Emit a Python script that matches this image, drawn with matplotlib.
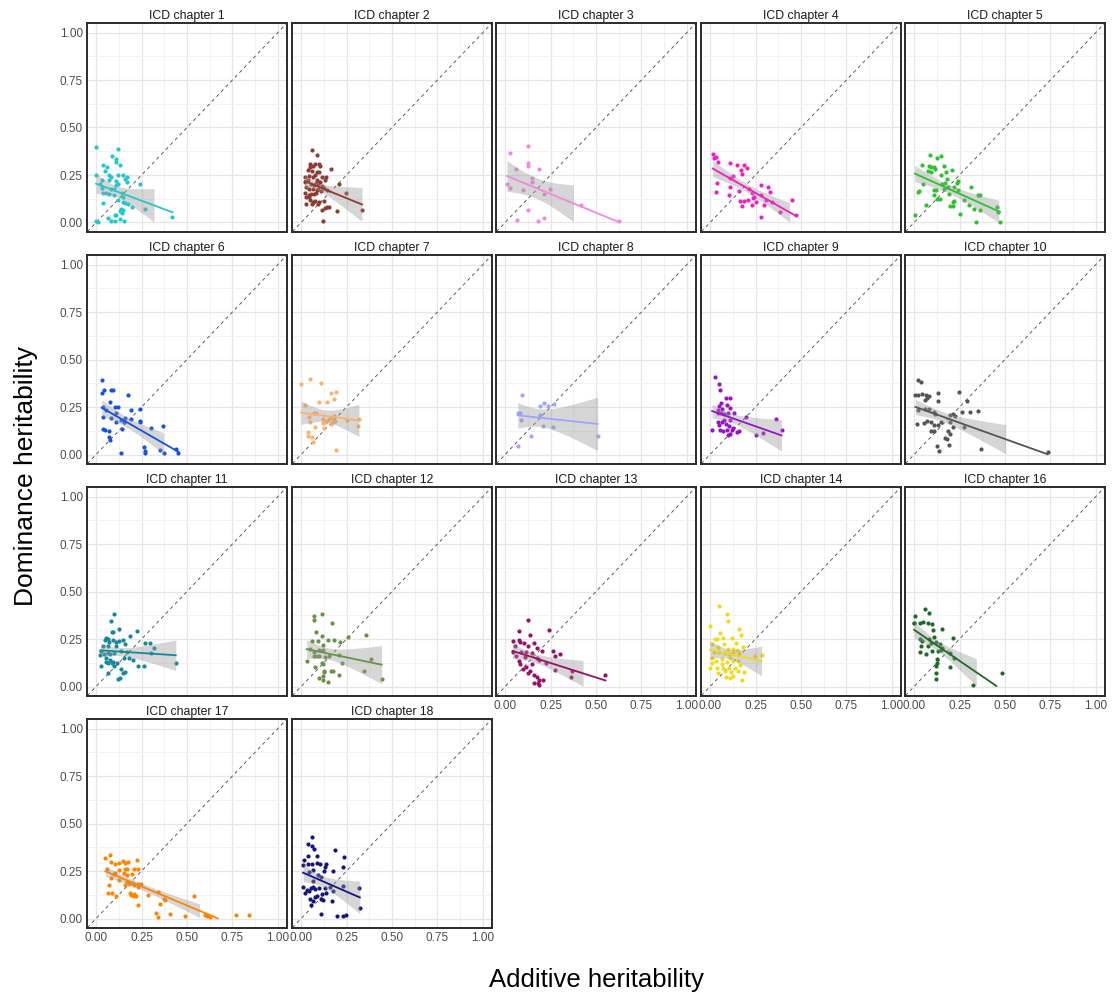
import numpy as np
import matplotlib
matplotlib.use("Agg")
import matplotlib.pyplot as plt

plt.rcParams['font.family'] = ['Liberation Sans', 'DejaVu Sans']

# additive (x) and dominance (y) heritability per ICD chapter
add_1 = [0.00, 0.12, 0.09, 0.11, 0.11, 0.13, 0.04, 0.06, 0.05, 0.00, 0.07, 0.08, 0.12, 0.15, 0.17, 0.16, 0.17, 0.03,
         0.07, 0.02, 0.03, 0.11, 0.12, 0.11, 0.24, 0.08, 0.10, 0.04, 0.055, 0.07, 0.10, 0.14, 0.15, 0.12, 0.15, 0.16,
         0.04, 0.175, 0.20, 0.27, 0.135, 0.15, 0.13, 0.14, 0.11, 0.105, 0.13, 0.065, 0.08, 0.105, 0.155, 0.42, 0.00, 0.01]
dom_1 = [0.395, 0.386, 0.35, 0.335, 0.32, 0.305, 0.30, 0.29, 0.27, 0.25, 0.25, 0.24, 0.25, 0.25, 0.24, 0.23, 0.215, 0.225,
         0.225, 0.205, 0.18, 0.22, 0.205, 0.195, 0.205, 0.175, 0.175, 0.155, 0.155, 0.15, 0.145, 0.155, 0.135, 0.12, 0.11, 0.10,
         0.10, 0.095, 0.08, 0.07, 0.07, 0.065, 0.06, 0.05, 0.04, 0.04, 0.02, 0.025, 0.01, 0.01, 0.01, 0.03, 0.01, 0.005]

add_2 = [0.06, 0.09, 0.05, 0.077, 0.05, 0.064, 0.097, 0.106, 0.166, 0.04, 0.06, 0.086, 0.10, 0.077, 0.046, 0.064, 0.117,
         0.135, 0.02, 0.024, 0.038, 0.09, 0.106, 0.131, 0.21, 0.053, 0.084, 0.095, 0.071, 0.115, 0.029, 0.042, 0.068, 0.093,
         0.124, 0.141, 0.11, 0.086, 0.08, 0.071, 0.057, 0.042, 0.024, 0.245, 0.027, 0.046, 0.051, 0.068, 0.075, 0.097, 0.026,
         0.062, 0.095, 0.124, 0.141, 0.13, 0.115, 0.154, 0.2, 0.335, 0.122]
dom_2 = [0.38, 0.355, 0.31, 0.31, 0.29, 0.297, 0.31, 0.297, 0.284, 0.275, 0.27, 0.268, 0.265, 0.252, 0.247, 0.242, 0.242,
         0.242, 0.242, 0.215, 0.224, 0.224, 0.215, 0.222, 0.2, 0.205, 0.208, 0.205, 0.196, 0.194, 0.189, 0.178, 0.178, 0.178,
         0.182, 0.171, 0.168, 0.169, 0.155, 0.152, 0.152, 0.146, 0.153, 0.155, 0.134, 0.134, 0.12, 0.108, 0.111, 0.109, 0.095,
         0.097, 0.097, 0.115, 0.083, 0.074, 0.065, 0.083, 0.062, 0.065, 0.01]

add_3 = [0.027, 0.128, 0.128, 0.128, 0.06, 0.185, 0.15, 0.146, 0.01, 0.025, 0.099, 0.247, 0.216, 0.415, 0.128, 0.066,
         0.183, 0.212, 0.625]
dom_3 = [0.365, 0.40, 0.315, 0.296, 0.284, 0.284, 0.236, 0.212, 0.2, 0.183, 0.169, 0.175, 0.148, 0.09, 0.065, 0.014,
         0.007, 0.025, 0.007]

add_4 = [0.015, 0.02, 0.03, 0.045, 0.11, 0.15, 0.185, 0.205, 0.168, 0.175, 0.128, 0.11, 0.037, 0.035, 0.11, 0.16, 0.106,
         0.214, 0.232, 0.243, 0.28, 0.32, 0.33, 0.28, 0.25, 0.236, 0.207, 0.185, 0.165, 0.175, 0.23, 0.296, 0.307, 0.342,
         0.382, 0.45, 0.473, 0.278]
dom_4 = [0.36, 0.34, 0.343, 0.316, 0.312, 0.305, 0.30, 0.288, 0.275, 0.254, 0.245, 0.234, 0.21, 0.162, 0.185, 0.164, 0.146,
         0.178, 0.157, 0.136, 0.196, 0.185, 0.16, 0.145, 0.109, 0.129, 0.118, 0.115, 0.115, 0.088, 0.092, 0.093, 0.118, 0.106,
         0.055, 0.12, 0.037, 0.028]

add_5 = [0.086, 0.15, 0.046, 0.08, 0.095, 0.108, 0.124, 0.075, 0.091, 0.115, 0.163, 0.177, 0.208, 0.15, 0.048, 0.179,
         0.155, 0.168, 0.243, 0.236, 0.188, 0.221, 0.108, 0.119, 0.163, 0.111, 0.024, 0.029, 0.192, 0.241, 0.311, 0.353,
         0.364, 0.124, 0.143, 0.217, 0.214, 0.272, 0.3, 0.197, 0.212, 0.327, 0.362, 0.455, 0.254, 0.004, 0.064, 0.459,
         0.342, 0.472]
dom_5 = [0.355, 0.348, 0.30, 0.295, 0.29, 0.29, 0.339, 0.27, 0.266, 0.282, 0.295, 0.266, 0.277, 0.249, 0.205, 0.229,
         0.205, 0.21, 0.219, 0.206, 0.189, 0.189, 0.169, 0.171, 0.175, 0.146, 0.16, 0.166, 0.15, 0.171, 0.185, 0.143,
         0.145, 0.122, 0.123, 0.115, 0.109, 0.116, 0.092, 0.088, 0.088, 0.069, 0.065, 0.079, 0.046, 0.037, 0.09, 0.053,
         0.004, 0.002]

add_6 = [0.031, 0.031, 0.044, 0.08, 0.095, 0.175, 0.079, 0.037, 0.102, 0.119, 0.111, 0.057, 0.037, 0.19, 0.243, 0.192,
         0.24, 0.243, 0.159, 0.155, 0.08, 0.108, 0.135, 0.303, 0.367, 0.144, 0.037, 0.048, 0.069, 0.079, 0.069, 0.261,
         0.27, 0.269, 0.139, 0.353, 0.375, 0.439, 0.453]
dom_6 = [0.39, 0.322, 0.338, 0.338, 0.339, 0.311, 0.278, 0.25, 0.248, 0.248, 0.221, 0.234, 0.2, 0.232, 0.237, 0.185,
         0.17, 0.176, 0.19, 0.169, 0.192, 0.169, 0.179, 0.141, 0.151, 0.135, 0.135, 0.128, 0.123, 0.077, 0.09, 0.037,
         0.018, 0.01, 0.009, 0.023, 0.007, 0.028, 0.007]

add_7 = [0.0, 0.051, 0.02, 0.108, 0.097, 0.141, 0.166, 0.194, 0.183, 0.069, 0.08, 0.044, 0.048, 0.119, 0.122, 0.139,
         0.146, 0.161, 0.172, 0.175, 0.166, 0.188, 0.252, 0.313, 0.075, 0.124, 0.038, 0.04, 0.058, 0.066, 0.192, 0.318,
         0.183]
dom_7 = [0.373, 0.395, 0.26, 0.378, 0.278, 0.278, 0.325, 0.328, 0.29, 0.221, 0.216, 0.195, 0.17, 0.165, 0.185, 0.17,
         0.183, 0.193, 0.193, 0.17, 0.162, 0.178, 0.183, 0.149, 0.146, 0.141, 0.121, 0.1, 0.091, 0.065, 0.023, 0.185,
         0.204]

add_8 = [0.092, 0.07, 0.083, 0.087, 0.19, 0.212, 0.234, 0.269, 0.192, 0.21, 0.266, 0.144, 0.072, 0.509]
dom_8 = [0.314, 0.218, 0.218, 0.18, 0.255, 0.27, 0.255, 0.264, 0.206, 0.15, 0.145, 0.096, 0.045, 0.1]

add_9 = [0.028, 0.048, 0.057, 0.085, 0.109, 0.061, 0.05, 0.068, 0.092, 0.109, 0.046, 0.041, 0.061, 0.076, 0.098, 0.129,
         0.199, 0.046, 0.066, 0.076, 0.109, 0.085, 0.105, 0.048, 0.011, 0.057, 0.072, 0.094, 0.122, 0.148, 0.159, 0.109,
         0.098, 0.124, 0.255, 0.293, 0.365, 0.393]
dom_9 = [0.41, 0.37, 0.342, 0.295, 0.295, 0.27, 0.257, 0.241, 0.258, 0.244, 0.232, 0.22, 0.22, 0.215, 0.216, 0.218,
         0.195, 0.171, 0.171, 0.18, 0.18, 0.16, 0.15, 0.154, 0.131, 0.129, 0.124, 0.127, 0.127, 0.119, 0.122, 0.11,
         0.101, 0.14, 0.101, 0.115, 0.185, 0.127]

add_10 = [0.02, 0.039, 0.007, 0.022, 0.044, 0.066, 0.081, 0.131, 0.061, 0.072, 0.131, 0.249, 0.29, 0.022, 0.061, 0.083,
          0.109, 0.114, 0.197, 0.212, 0.223, 0.262, 0.31, 0.349, 0.017, 0.055, 0.072, 0.092, 0.109, 0.131, 0.146, 0.197,
          0.214, 0.275, 0.092, 0.109, 0.186, 0.197, 0.168, 0.181, 0.192, 0.127, 0.135, 0.369, 0.734]
dom_10 = [0.39, 0.379, 0.311, 0.314, 0.316, 0.311, 0.309, 0.325, 0.286, 0.297, 0.284, 0.328, 0.284, 0.232, 0.237, 0.237,
          0.223, 0.211, 0.206, 0.211, 0.202, 0.223, 0.223, 0.23, 0.162, 0.168, 0.175, 0.171, 0.157, 0.154, 0.171, 0.171,
          0.145, 0.145, 0.122, 0.122, 0.122, 0.108, 0.089, 0.08, 0.052, 0.045, 0.021, 0.031, 0.014]

add_11 = [0.1, 0.084, 0.124, 0.086, 0.091, 0.055, 0.064, 0.047, 0.073, 0.066, 0.091, 0.109, 0.128, 0.15, 0.186, 0.226,
          0.157, 0.27, 0.297, 0.319, 0.036, 0.027, 0.024, 0.042, 0.064, 0.078, 0.1, 0.137, 0.168, 0.109, 0.055, 0.077,
          0.053, 0.066, 0.095, 0.113, 0.1, 0.155, 0.182, 0.204, 0.232, 0.261, 0.303, 0.438, 0.026, 0.064, 0.137, 0.146,
          0.159, 0.119, 0.133, 0.088]
dom_11 = [0.382, 0.347, 0.303, 0.289, 0.289, 0.254, 0.25, 0.243, 0.233, 0.215, 0.247, 0.236, 0.24, 0.243, 0.266, 0.291,
          0.224, 0.231, 0.229, 0.203, 0.215, 0.189, 0.168, 0.173, 0.177, 0.172, 0.175, 0.189, 0.184, 0.214, 0.151, 0.137,
          0.131, 0.124, 0.131, 0.123, 0.11, 0.151, 0.152, 0.14, 0.107, 0.107, 0.175, 0.123, 0.107, 0.072, 0.093, 0.072,
          0.075, 0.037, 0.046, 0.124]

add_12 = [0.069, 0.069, 0.117, 0.17, 0.08, 0.115, 0.058, 0.119, 0.095, 0.15, 0.182, 0.214, 0.259, 0.356, 0.051, 0.071,
          0.099, 0.122, 0.071, 0.088, 0.1, 0.131, 0.153, 0.206, 0.031, 0.113, 0.119, 0.223, 0.383, 0.078, 0.126, 0.128,
          0.166, 0.177, 0.1, 0.122, 0.15, 0.206, 0.347, 0.443, 0.12]
dom_12 = [0.373, 0.352, 0.382, 0.335, 0.285, 0.268, 0.238, 0.221, 0.242, 0.245, 0.247, 0.233, 0.259, 0.273, 0.196, 0.184,
          0.193, 0.194, 0.159, 0.159, 0.159, 0.154, 0.163, 0.168, 0.133, 0.123, 0.116, 0.123, 0.145, 0.102, 0.082, 0.075,
          0.084, 0.084, 0.046, 0.054, 0.023, 0.063, 0.082, 0.039, 0.035]

add_13 = [0.128, 0.076, 0.135, 0.243, 0.043, 0.074, 0.08, 0.102, 0.161, 0.052, 0.124, 0.174, 0.041, 0.087, 0.113, 0.146,
          0.204, 0.265, 0.3, 0.272, 0.109, 0.076, 0.059, 0.178, 0.189, 0.226, 0.274, 0.37, 0.365, 0.552, 0.08, 0.117,
          0.148, 0.139, 0.161, 0.178, 0.189, 0.157, 0.189, 0.1, 0.124, 0.211, 0.183]
dom_13 = [0.35, 0.292, 0.271, 0.299, 0.241, 0.245, 0.234, 0.227, 0.227, 0.213, 0.212, 0.205, 0.182, 0.182, 0.182, 0.178,
          0.185, 0.185, 0.17, 0.161, 0.157, 0.134, 0.161, 0.152, 0.138, 0.126, 0.085, 0.084, 0.051, 0.063, 0.117, 0.105,
          0.117, 0.079, 0.061, 0.051, 0.035, 0.021, 0.009, 0.091, 0.07, 0.035, 0.016]

add_14 = [0.048, 0.093, 0.098, 0.0, 0.157, 0.054, 0.07, 0.026, 0.039, 0.122, 0.172, 0.141, 0.011, 0.046, 0.076, 0.098,
          0.126, 0.146, 0.183, 0.022, 0.048, 0.083, 0.104, 0.124, 0.161, 0.283, 0.246, 0.011, 0.033, 0.065, 0.091, 0.107,
          0.128, 0.152, 0.013, 0.039, 0.0, 0.07, 0.102, 0.137, 0.043, 0.08, 0.115, 0.154, 0.126, 0.178, 0.087, 0.111,
          0.189, 0.163, 0.065]
dom_14 = [0.423, 0.379, 0.343, 0.318, 0.304, 0.283, 0.253, 0.252, 0.252, 0.253, 0.271, 0.231, 0.222, 0.21, 0.222, 0.196,
          0.196, 0.191, 0.21, 0.182, 0.182, 0.178, 0.173, 0.175, 0.175, 0.166, 0.161, 0.15, 0.135, 0.143, 0.129, 0.152,
          0.136, 0.135, 0.126, 0.098, 0.098, 0.096, 0.1, 0.098, 0.073, 0.082, 0.077, 0.08, 0.056, 0.035, 0.052, 0.047,
          0.077, 0.114, 0.121]

add_16 = [0.059, 0.004, 0.083, 0.0, 0.002, 0.03, 0.048, 0.076, 0.098, 0.104, 0.152, 0.033, 0.043, 0.083, 0.109, 0.12,
          0.091, 0.141, 0.213, 0.039, 0.078, 0.098, 0.033, 0.065, 0.152, 0.148, 0.2, 0.217, 0.126, 0.196, 0.12, 0.124,
          0.12, 0.12, 0.483, 0.324, 0.13]
dom_16 = [0.406, 0.371, 0.385, 0.336, 0.332, 0.336, 0.341, 0.332, 0.327, 0.297, 0.301, 0.248, 0.238, 0.248, 0.26, 0.234,
          0.231, 0.222, 0.257, 0.213, 0.213, 0.187, 0.182, 0.17, 0.205, 0.191, 0.178, 0.152, 0.143, 0.105, 0.108, 0.126,
          0.073, 0.042, 0.073, 0.009, 0.187]

add_17 = [0.051, 0.077, 0.084, 0.103, 0.125, 0.147, 0.161, 0.174, 0.226, 0.158, 0.171, 0.128, 0.099, 0.106, 0.059, 0.083,
          0.125, 0.152, 0.169, 0.195, 0.206, 0.228, 0.073, 0.066, 0.088, 0.112, 0.169, 0.161, 0.183, 0.198, 0.206, 0.231,
          0.249, 0.185, 0.193, 0.206, 0.209, 0.22, 0.228, 0.286, 0.338, 0.371, 0.233, 0.33, 0.341, 0.352, 0.404, 0.488,
          0.538, 0.6, 0.611, 0.629, 0.767, 0.839, 0.38]
dom_17 = [0.316, 0.335, 0.295, 0.286, 0.293, 0.304, 0.293, 0.298, 0.307, 0.263, 0.26, 0.254, 0.232, 0.242, 0.263, 0.211,
          0.202, 0.24, 0.228, 0.232, 0.263, 0.261, 0.175, 0.133, 0.135, 0.121, 0.191, 0.175, 0.184, 0.188, 0.175, 0.182,
          0.181, 0.133, 0.123, 0.117, 0.128, 0.117, 0.165, 0.126, 0.137, 0.104, 0.07, 0.03, 0.009, 0.077, 0.026, 0.011,
          0.118, 0.016, 0.012, 0.009, 0.019, 0.016, 0.098]

add_18 = [0.059, 0.039, 0.061, 0.072, 0.189, 0.09, 0.04, 0.018, 0.011, 0.04, 0.061, 0.086, 0.106, 0.138, 0.237, 0.044,
          0.064, 0.094, 0.108, 0.127, 0.132, 0.178, 0.228, 0.013, 0.035, 0.053, 0.079, 0.097, 0.134, 0.068, 0.064, 0.046,
          0.022, 0.09, 0.108, 0.079, 0.05, 0.068, 0.053, 0.123, 0.114, 0.138, 0.16, 0.174, 0.229, 0.316, 0.108, 0.171,
          0.196, 0.229, 0.248, 0.323]
dom_18 = [0.428, 0.391, 0.384, 0.365, 0.363, 0.33, 0.33, 0.307, 0.284, 0.289, 0.289, 0.293, 0.289, 0.289, 0.323, 0.246,
          0.254, 0.228, 0.216, 0.251, 0.272, 0.251, 0.27, 0.167, 0.149, 0.163, 0.154, 0.161, 0.161, 0.196, 0.167, 0.144,
          0.132, 0.119, 0.105, 0.111, 0.105, 0.091, 0.07, 0.095, 0.13, 0.132, 0.167, 0.144, 0.17, 0.163, 0.025, 0.091,
          0.012, 0.012, 0.018, 0.054]

chapters = [1, 2, 3, 4, 5, 6, 7, 8, 9, 10, 11, 12, 13, 14, 16, 17, 18]
colors = ['#22C8CC', '#8E3B32', '#F28ADC', '#F21EC4', '#2EC22E', '#1652E0', '#FDB26C', '#A0A4FF', '#9A12C8',
          '#555555', '#15899A', '#6A9145', '#990F6A', '#F2DA1C', '#1D6B24', '#FF8500', '#15157F']
adds = [add_1, add_2, add_3, add_4, add_5, add_6, add_7, add_8, add_9, add_10, add_11, add_12, add_13, add_14,
        add_16, add_17, add_18]
doms = [dom_1, dom_2, dom_3, dom_4, dom_5, dom_6, dom_7, dom_8, dom_9, dom_10, dom_11, dom_12, dom_13, dom_14,
        dom_16, dom_17, dom_18]


def t975(df):
    # approximate 97.5% quantile of Student t
    z = 1.959964
    return z + (z**3 + z) / (4 * df) + (5 * z**5 + 16 * z**3 + 3 * z) / (96 * df**2)


def lm_fit(x, y):
    x = np.asarray(x)
    y = np.asarray(y)
    n = len(x)
    b, a = np.polyfit(x, y, 1)
    res = y - (a + b * x)
    s = np.sqrt(np.sum(res**2) / (n - 2))
    xs = np.linspace(x.min(), x.max(), 80)
    fit = a + b * xs
    se = s * np.sqrt(1. / n + (xs - x.mean())**2 / np.sum((x - x.mean())**2))
    t = t975(n - 2)
    return xs, fit, fit - t * se, fit + t * se


W, H = 1112, 996
fig = plt.figure(figsize=(W / 100., H / 100.), dpi=100)
col_left = [87, 292, 496, 701, 905]
row_top = [23, 255, 487, 719]
pw, ph = 200, 209
ticks = [0, 0.25, 0.5, 0.75, 1.0]
ticklab = ['0.00', '0.25', '0.50', '0.75', '1.00']

for k, ch in enumerate(chapters):
    r, c = divmod(k, 5)
    ax = fig.add_axes([col_left[c] / W, 1 - (row_top[r] + ph) / H, pw / W, ph / H])
    ax.set_xlim(-0.05, 1.05)
    ax.set_ylim(-0.05, 1.05)
    ax.set_xticks(ticks)
    ax.set_yticks(ticks)
    ax.set_xticks([0.125, 0.375, 0.625, 0.875], minor=True)
    ax.set_yticks([0.125, 0.375, 0.625, 0.875], minor=True)
    ax.grid(True, which='major', color='#E6E6E6', lw=0.9)
    ax.grid(True, which='minor', color='#F1F1F1', lw=0.6)
    ax.set_axisbelow(True)
    ax.tick_params(which='both', length=0, labelsize=8.5, labelcolor='#4D4D4D', pad=3)
    for sp in ax.spines.values():
        sp.set_color('#2B2B2B')
        sp.set_linewidth(1.4)

    # bottom-most panel in each column gets x labels, first column gets y labels
    below = k + 5
    if below >= len(chapters):
        ax.set_xticklabels(ticklab)
    else:
        ax.set_xticklabels([])
    if c == 0:
        ax.set_yticklabels(ticklab)
    else:
        ax.set_yticklabels([])

    ax.plot([-0.2, 1.2], [-0.2, 1.2], color='#444444', lw=0.6, dashes=(4, 4), zorder=1)

    x = np.array(adds[k])
    y = np.array(doms[k])
    ax.scatter(x, y, s=9, color=colors[k], linewidths=0, zorder=2)

    xs, fit, lo, hi = lm_fit(x, y)
    band = (lo >= 0) & (hi <= 1)
    ax.fill_between(xs[band], lo[band], hi[band], color='#999999', alpha=0.4, linewidth=0, zorder=3)
    line = (fit >= 0) & (fit <= 1)
    ax.plot(xs[line], fit[line], color=colors[k], lw=1.3, zorder=4)

    ax.set_title('ICD chapter %d' % ch, fontsize=8.8, pad=3, color='#1A1A1A')

fig.text(596.0 / W, 1 - 980.0 / H, 'Additive heritability', ha='center', va='center', fontsize=18.5)
fig.text(26.0 / W, 1 - 476.0 / H, 'Dominance heritability', ha='center', va='center', fontsize=19, rotation=90)

fig.savefig('out.png', dpi=100)
